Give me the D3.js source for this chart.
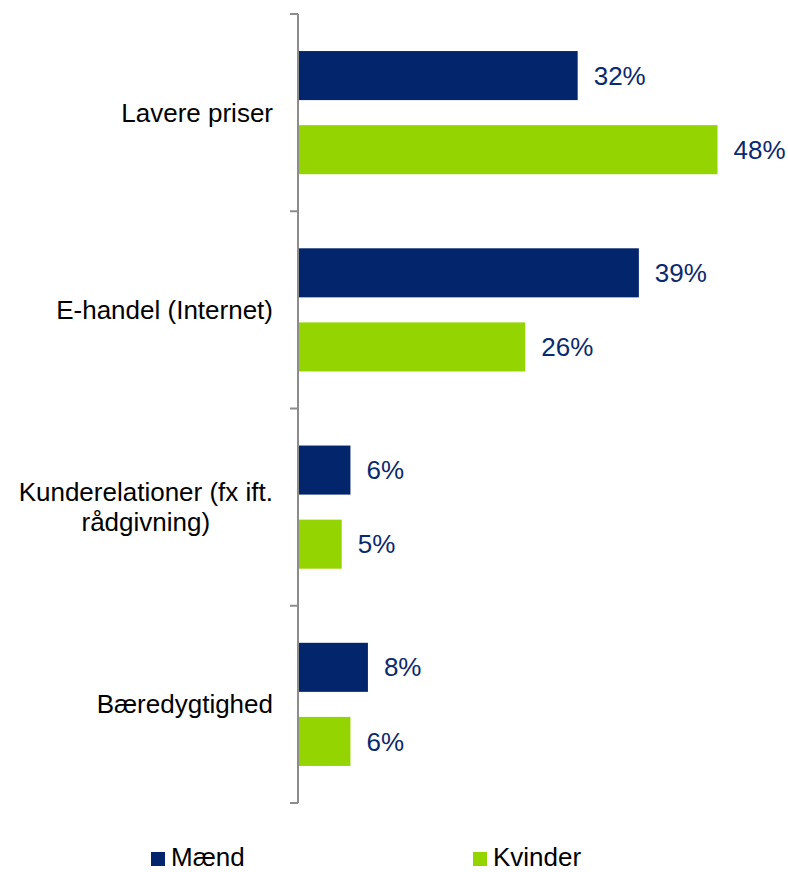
<!DOCTYPE html>
<html>
<head>
<meta charset="utf-8">
<script src="https://cdn.jsdelivr.net/npm/d3@7"></script>
<style>
  html, body { margin: 0; padding: 0; background: #ffffff; }
  svg { display: block; font-family: "Liberation Sans", Arial, sans-serif; }
</style>
</head>
<body>
<svg id="chart" width="788" height="872"></svg>
<script>
// Categories (each may span several lines) and series values in percent
const categories = ["Lavere priser", "E-handel (Internet)", "Kunderelationer (fx ift. rådgivning)", "Bæredygtighed"];
const categoryLines = [["Lavere priser"], ["E-handel (Internet)"], ["Kunderelationer (fx ift.", "rådgivning)"], ["Bæredygtighed"]];
const seriesNames = ["Mænd", "Kvinder"];
const maend = [32, 39, 6, 8];
const kvinder = [48, 26, 5, 6];
const seriesColors = ["#03256C", "#94D400"];

const svg = d3.select("#chart");
const fontSize = 26;
const labelColor = "#0A2A6E";

const y = d3.scaleBand().domain(categories).range([14, 803]).padding(0);
const ySub = d3.scaleBand().domain(seriesNames).range([0, y.bandwidth()])
  .paddingInner(0.338).paddingOuter(0.5);
const x = d3.scaleLinear().domain([0, 50]).range([298, 735]);

const rows = categories.map((c, i) => ({
  category: c,
  lines: categoryLines[i],
  values: [
    { series: seriesNames[0], value: maend[i], color: seriesColors[0] },
    { series: seriesNames[1], value: kvinder[i], color: seriesColors[1] }
  ]
}));

// Bars and value labels
const groups = svg.selectAll("g.cat").data(rows).join("g")
  .attr("class", "cat")
  .attr("transform", d => `translate(0,${y(d.category)})`);

groups.selectAll("rect").data(d => d.values).join("rect")
  .attr("x", x(0) + 1)
  .attr("y", d => ySub(d.series))
  .attr("width", d => x(d.value) - x(0) - 1)
  .attr("height", ySub.bandwidth())
  .attr("fill", d => d.color);

groups.selectAll("text.val").data(d => d.values).join("text")
  .attr("class", "val")
  .attr("x", d => x(d.value) + 16)
  .attr("y", d => ySub(d.series) + ySub.bandwidth() / 2)
  .attr("dy", "0.35em")
  .attr("font-size", fontSize)
  .attr("fill", labelColor)
  .text(d => d.value + "%");

// Category labels: a text block right aligned at the axis, lines centred within it
const labelRight = 273;
groups.each(function (d) {
  const g = d3.select(this);
  const lh = 30;
  const n = d.lines.length;
  const cy = y.bandwidth() / 2;
  const t = g.append("text")
    .attr("font-size", fontSize)
    .attr("fill", "#000000");
  const spans = d.lines.map((line, k) =>
    t.append("tspan")
      .attr("y", cy + (k - (n - 1) / 2) * lh)
      .attr("dy", "0.35em")
      .text(line));
  const blockWidth = d3.max(spans, s => s.node().getComputedTextLength());
  spans.forEach(s => {
    s.attr("text-anchor", "middle").attr("x", labelRight - blockWidth / 2);
  });
});

// Category axis: vertical line with ticks at band boundaries
const axisColor = "#8C8C8C";
const [y0, y1] = y.range();
svg.append("line")
  .attr("x1", x(0)).attr("x2", x(0))
  .attr("y1", y0).attr("y2", y1)
  .attr("stroke", axisColor).attr("stroke-width", 2);
const boundaries = categories.map(c => y(c)).concat([y1]);
svg.selectAll("line.tick").data(boundaries).join("line")
  .attr("class", "tick")
  .attr("x1", x(0) - 8).attr("x2", x(0))
  .attr("y1", d => d).attr("y2", d => d)
  .attr("stroke", axisColor).attr("stroke-width", 2);

// Legend
const legendX = [151, 473];
const legend = svg.selectAll("g.legend").data(seriesNames).join("g")
  .attr("class", "legend")
  .attr("transform", (d, i) => `translate(${legendX[i]},852)`);
legend.append("rect")
  .attr("width", 14).attr("height", 14)
  .attr("fill", (d, i) => seriesColors[i]);
legend.append("text")
  .attr("x", 20).attr("y", 14)
  .attr("font-size", fontSize)
  .attr("fill", "#000000")
  .text(d => d);
</script>
</body>
</html>
